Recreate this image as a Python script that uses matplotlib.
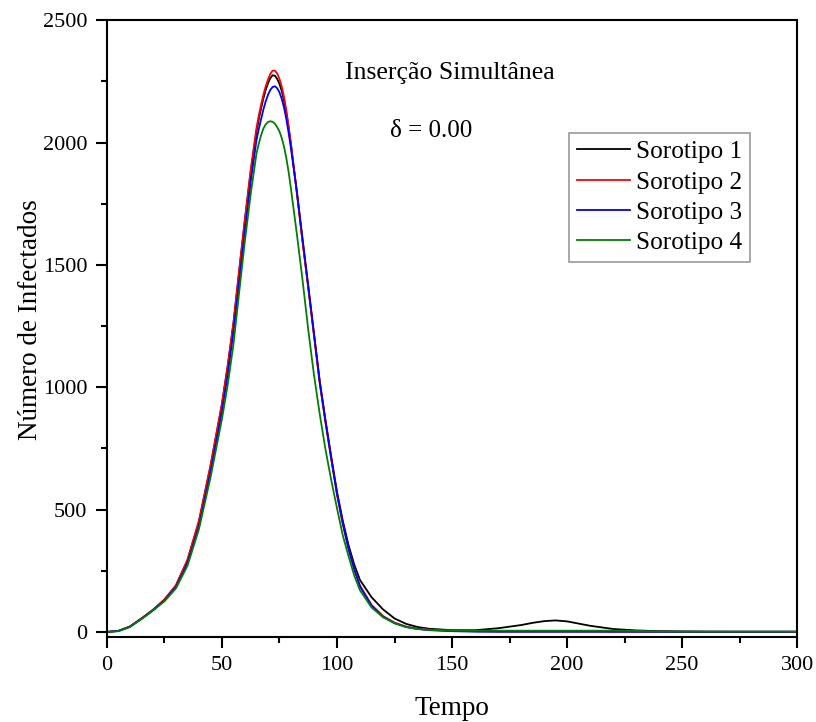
import matplotlib
matplotlib.use("Agg")
import matplotlib.pyplot as plt
from matplotlib.ticker import MultipleLocator

plt.rcParams["font.family"] = ["Liberation Serif", "DejaVu Serif"]

# time grid (days), finer around the peak
tempo = [0, 5, 10, 15, 20, 25, 30, 35, 40, 45, 50, 52.5, 55, 57.5, 60, 62.5,
         65, 66, 67, 68, 69, 70, 71, 72, 73, 74, 75, 76, 77, 78, 79, 80,
         82.5, 85, 87.5, 90, 92.5, 95, 97.5, 100, 102.5, 105, 107.5, 110,
         115, 120, 125, 130, 135, 140, 150, 160, 170, 180, 185, 190, 195, 200,
         205, 210, 220, 230, 240, 260, 280, 300]

sorotipo_1 = [0, 4, 22, 55, 90, 132, 190, 292, 450, 675, 930, 1085, 1260, 1475,
              1685, 1880,
              2045, 2095, 2140, 2180, 2215, 2242, 2263, 2275, 2273, 2260, 2240,
              2210, 2170, 2120, 2058, 1990,
              1800, 1600, 1410, 1215, 1025, 865, 715, 572, 455, 355, 275, 212,
              142, 92, 55, 33, 20, 13, 7, 7, 15, 28, 37, 44, 47, 43,
              34, 25, 12, 6, 3, 1, 0.5, 0.5]

sorotipo_2 = [0, 4, 22, 55, 90, 132, 190, 295, 455, 680, 935, 1090, 1265, 1480,
              1690, 1890,
              2060, 2110, 2155, 2195, 2230, 2258, 2280, 2294, 2294, 2282, 2260,
              2228, 2185, 2130, 2065, 1995,
              1800, 1595, 1405, 1210, 1015, 855, 705, 560, 440, 340, 258, 190,
              110, 65, 38, 22, 13, 9, 5, 3, 2, 2, 2, 2, 2, 2,
              2, 2, 1, 1, 0.5, 0.5, 0.5, 0.5]

sorotipo_3 = [0, 4, 21, 53, 88, 128, 182, 280, 430, 650, 900, 1050, 1225, 1430,
              1640, 1840,
              2010, 2055, 2095, 2135, 2168, 2195, 2215, 2227, 2230, 2222, 2205,
              2178, 2142, 2095, 2038, 1975,
              1805, 1610, 1415, 1220, 1020, 860, 710, 565, 445, 340, 255, 185,
              108, 62, 36, 20, 12, 7, 3, 1, 0.5, 0.5, 0.5, 0.5, 0.5, 0.5,
              0.5, 0.5, 0.5, 0.5, 0.5, 0.5, 0.5, 0.5]

sorotipo_4 = [0, 3, 20, 52, 87, 125, 178, 270, 420, 630, 870, 1010, 1175, 1390,
              1600, 1790,
              1955, 1995, 2030, 2057, 2074, 2084, 2087, 2085, 2077, 2063, 2045,
              2018, 1982, 1935, 1878, 1810,
              1630, 1440, 1235, 1050, 890, 745, 620, 505, 395, 310, 230, 170,
              100, 60, 35, 20, 12, 8, 5, 5, 5, 5, 5, 5, 5, 5,
              5, 5, 5, 4, 2, 1.5, 1.5, 1.5]

series = [("Sorotipo 1", sorotipo_1, "black"),
          ("Sorotipo 2", sorotipo_2, "red"),
          ("Sorotipo 3", sorotipo_3, "blue"),
          ("Sorotipo 4", sorotipo_4, "green")]

fig = plt.figure(figsize=(8.16, 7.22), dpi=100)
ax = fig.add_axes([0.131, 0.118, 0.846, 0.854])

for nome, valores, cor in series:
    ax.plot(tempo, valores, color=cor, lw=1.3, label=nome)

ax.set_xlim(0, 300)
ax.set_ylim(-20, 2500)
ax.xaxis.set_major_locator(MultipleLocator(50))
ax.xaxis.set_minor_locator(MultipleLocator(25))
ax.yaxis.set_major_locator(MultipleLocator(500))
ax.yaxis.set_minor_locator(MultipleLocator(250))
ax.tick_params(which="both", direction="out", width=1.5, labelsize=16, pad=6)
ax.tick_params(which="major", length=8)
ax.tick_params(which="minor", length=4.5)
for s in ax.spines.values():
    s.set_linewidth(1.5)

ax.set_xlabel("Tempo", fontsize=19.5, labelpad=15)
ax.set_ylabel("Número de Infectados", fontsize=19.5, labelpad=0)
ax.yaxis.label.set_y(0.514)

ax.text(0.497, 0.914, "Inserção Simultânea", transform=ax.transAxes,
        ha="center", va="center", fontsize=18.5)
ax.text(0.47, 0.82, "δ = 0.00", transform=ax.transAxes,
        ha="center", va="center", fontsize=18)

leg = ax.legend(loc="upper left", bbox_to_anchor=(0.6696, 0.817), fontsize=18.2,
                frameon=True, fancybox=False, handlelength=2.1,
                handletextpad=0.25, borderaxespad=0, borderpad=0.3,
                labelspacing=0.3, edgecolor="gray")
leg.get_frame().set_linewidth(1.2)

fig.savefig("out.png", dpi=100)
